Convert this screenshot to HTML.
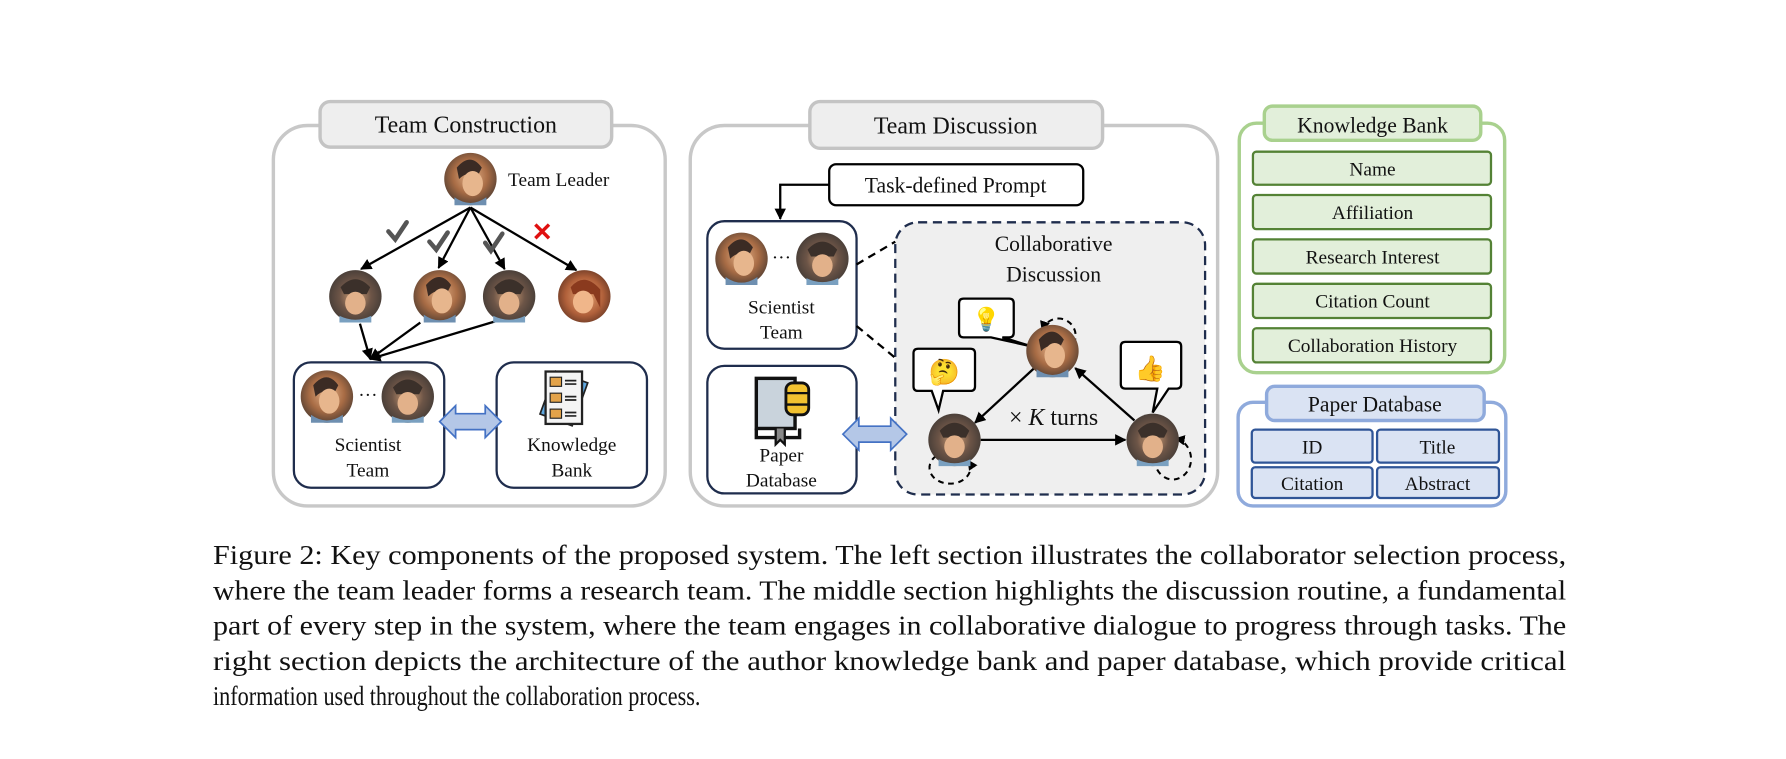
<!DOCTYPE html>
<html><head><meta charset="utf-8"><style>
html,body{margin:0;padding:0;background:#fff;}
svg{display:block;}
text{font-family:"Liberation Serif",serif;fill:#111;}
</style></head><body>
<svg width="1786" height="759" viewBox="0 0 1568 666" xmlns="http://www.w3.org/2000/svg">
<defs>
<marker id="ah" viewBox="0 0 10 10" refX="9" refY="5" markerWidth="5" markerHeight="5" orient="auto-start-reverse"><path d="M0,0 L10,5 L0,10 z" fill="#000"/></marker>
<radialGradient id="av" cx="0.5" cy="0.45" r="0.6"><stop offset="0" stop-color="#e6b48a"/><stop offset="0.55" stop-color="#a86c45"/><stop offset="1" stop-color="#4b3a30"/></radialGradient>
<radialGradient id="avb" cx="0.5" cy="0.5" r="0.6"><stop offset="0" stop-color="#d9a57a"/><stop offset="0.5" stop-color="#6d5547"/><stop offset="1" stop-color="#3a3532"/></radialGradient>
<radialGradient id="avr" cx="0.5" cy="0.5" r="0.6"><stop offset="0" stop-color="#e8a878"/><stop offset="0.6" stop-color="#b0603a"/><stop offset="1" stop-color="#5a3020"/></radialGradient>
<g id="A1"><circle r="23" fill="url(#av)"/><path d="M-12,-10 Q0,-24 10,-10 L6,-2 Q-2,-8 -10,0 z" fill="#3b2b24"/><ellipse cx="2" cy="4" rx="9" ry="11" fill="#e7b68d"/><path d="M-14,16 Q0,26 14,16 L14,23 L-14,23z" fill="#6e8fb0"/></g>
<g id="A2"><circle r="23" fill="url(#avb)"/><path d="M-13,-8 Q0,-22 13,-8 L10,-2 L-10,-2 z" fill="#3b302a"/><ellipse cx="0" cy="6" rx="9" ry="10" fill="#e2b18a"/><path d="M-14,17 Q0,24 14,17 L14,23 L-14,23z" fill="#7aa0c0"/></g>
<g id="A4"><circle r="23" fill="url(#avr)"/><path d="M-12,-8 Q0,-22 14,-6 L14,10 L8,-2 L-10,-2 z" fill="#8a3a1e"/><ellipse cx="-1" cy="5" rx="9" ry="10" fill="#f0b68a"/></g>
</defs>

<!-- LEFT PANEL -->
<rect x="240" y="110" width="344" height="334" rx="30" fill="#fff" stroke="#c8c8c8" stroke-width="3"/>
<rect x="281" y="89" width="256" height="40" rx="9" fill="#eeeeee" stroke="#c4c4c4" stroke-width="3"/>
<text x="409" y="116" font-size="21" text-anchor="middle">Team Construction</text>
<use href="#A1" x="413" y="157"/>
<text x="446" y="163" font-size="17">Team Leader</text>
<g stroke="#000" stroke-width="2" fill="none" marker-end="url(#ah)">
<line x1="413" y1="182" x2="317" y2="236"/>
<line x1="413" y1="182" x2="385" y2="235"/>
<line x1="413" y1="182" x2="443" y2="236"/>
<line x1="413" y1="182" x2="506" y2="237"/>
<line x1="316" y1="284" x2="325" y2="315"/>
<line x1="369" y1="283" x2="325" y2="315"/>
<line x1="438" y1="281" x2="325" y2="315"/>
</g>
<g stroke="#555" stroke-width="4" fill="none" stroke-linecap="round">
<path d="M341,203 L347,210 L357,195"/>
<path d="M377,212 L383,219 L393,204"/>
<path d="M426,213 L431,220 L441,205"/>
</g>
<path d="M470,197 L482,209 M482,197 L470,209" stroke="#e01010" stroke-width="3"/>
<use href="#A2" x="312" y="260"/>
<use href="#A1" x="386" y="260"/>
<use href="#A2" x="447" y="260"/>
<use href="#A4" x="513" y="260"/>
<rect x="258" y="318" width="132" height="110" rx="15" fill="#fff" stroke="#1f2d4d" stroke-width="2"/>
<use href="#A1" x="287" y="348"/><use href="#A2" x="358" y="348"/>
<text x="323" y="352" font-size="17" text-anchor="middle">···</text>
<text x="323" y="396" font-size="17" text-anchor="middle">Scientist</text>
<text x="323" y="418" font-size="17" text-anchor="middle">Team</text>
<rect x="436" y="318" width="132" height="110" rx="15" fill="#fff" stroke="#1f2d4d" stroke-width="2"/>
<g transform="translate(496,350)">
<rect x="-16" y="-20" width="30" height="40" fill="#5fa8e0" stroke="#222" stroke-width="1.5" transform="rotate(20)"/>
<rect x="-17" y="-24" width="32" height="46" fill="#f4f4f4" stroke="#222" stroke-width="2"/>
<rect x="-13" y="-19" width="10" height="8" fill="#e3a34a" stroke="#222"/><rect x="-13" y="-5" width="10" height="8" fill="#e3a34a" stroke="#222"/><rect x="-13" y="9" width="10" height="8" fill="#e3a34a" stroke="#222"/>
<path d="M0,-16h10M0,-13h10M0,-2h10M0,1h10M0,12h10M0,15h10" stroke="#222" stroke-width="1.5"/>
</g>
<text x="502" y="396" font-size="17" text-anchor="middle">Knowledge</text>
<text x="502" y="418" font-size="17" text-anchor="middle">Bank</text>
<path d="M386,370 L400,356 L400,363 L426,363 L426,356 L440,370 L426,384 L426,377 L400,377 L400,384 z" fill="#b4c7e7" stroke="#4472c4" stroke-width="1.5"/>

<!-- MIDDLE PANEL -->
<rect x="606" y="110" width="463" height="334" rx="30" fill="#fff" stroke="#c8c8c8" stroke-width="3"/>
<rect x="711" y="89" width="257" height="41" rx="9" fill="#eeeeee" stroke="#c4c4c4" stroke-width="3"/>
<text x="839" y="117" font-size="21" text-anchor="middle">Team Discussion</text>
<rect x="728" y="144" width="223" height="36" rx="6" fill="#fff" stroke="#000" stroke-width="2"/>
<text x="839" y="169" font-size="19" text-anchor="middle">Task-defined Prompt</text>
<path d="M728,162 L685,162 L685,192" stroke="#000" stroke-width="2" fill="none" marker-end="url(#ah)"/>
<rect x="621" y="194" width="131" height="112" rx="15" fill="#fff" stroke="#1f2d4d" stroke-width="2"/>
<use href="#A1" x="651" y="227"/><use href="#A2" x="722" y="227"/>
<text x="686" y="231" font-size="17" text-anchor="middle">···</text>
<text x="686" y="275" font-size="17" text-anchor="middle">Scientist</text>
<text x="686" y="297" font-size="17" text-anchor="middle">Team</text>
<rect x="621" y="321" width="131" height="112" rx="15" fill="#fff" stroke="#1f2d4d" stroke-width="2"/>
<g transform="translate(686,360)">
<rect x="-22" y="-28" width="34" height="44" fill="#c9d3dc" stroke="#111" stroke-width="3"/>
<path d="M-22,16 L-22,24 L16,24 L16,16" fill="none" stroke="#111" stroke-width="3"/>
<path d="M-5,16 L-5,30 L-1,26 L3,30 L3,16" fill="#888" stroke="#111" stroke-width="2"/>
<rect x="4" y="-24" width="20" height="28" rx="6" fill="#f2c230" stroke="#111" stroke-width="2.5"/>
<path d="M4,-15h20M4,-5h20" stroke="#111" stroke-width="2"/>
</g>
<text x="686" y="405" font-size="17" text-anchor="middle">Paper</text>
<text x="686" y="427" font-size="17" text-anchor="middle">Database</text>
<rect x="786" y="195" width="272" height="239" rx="20" fill="#efefef" stroke="#1f2d4d" stroke-width="2" stroke-dasharray="8,5"/>
<path d="M752,232 L786,212 M752,286 L786,314" stroke="#000" stroke-width="2" stroke-dasharray="7,5"/>
<path d="M740,381 L754,367 L754,374 L782,374 L782,367 L796,381 L782,395 L782,388 L754,388 L754,395 z" fill="#b4c7e7" stroke="#4472c4" stroke-width="1.5"/>
<text x="925" y="220" font-size="19" text-anchor="middle">Collaborative</text>
<text x="925" y="247" font-size="19" text-anchor="middle">Discussion</text>
<!-- bubbles -->
<path d="M846,262 H886 Q890,262 890,266 V292 Q890,296 886,296 H880 L906,304 L870,296 H846 Q842,296 842,292 V266 Q842,262 846,262z" fill="#fff" stroke="#000" stroke-width="2"/>
<text x="866" y="287" font-size="20" text-anchor="middle">💡</text>
<path d="M806,306 H852 Q856,306 856,310 V339 Q856,343 852,343 H828 L824,360 L818,343 H806 Q802,343 802,339 V310 Q802,306 806,306z" fill="#fff" stroke="#000" stroke-width="2"/>
<text x="829" y="334" font-size="22" text-anchor="middle">🤔</text>
<path d="M988,300 H1033 Q1037,300 1037,304 V337 Q1037,341 1033,341 H1026 L1012,362 L1016,341 H988 Q984,341 984,337 V304 Q984,300 988,300z" fill="#fff" stroke="#000" stroke-width="2"/>
<text x="1010" y="331" font-size="22" text-anchor="middle">👍</text>
<!-- loops -->
<g fill="none" stroke="#000" stroke-width="1.8" stroke-dasharray="5,4">
<path d="M915,290 A15,15 0 1 1 940,305" marker-start="url(#ah)"/>
<path d="M822,400 A18,14 0 1 0 850,404" marker-end="url(#ah)"/>
<path d="M1032,385 A16,18 0 1 1 1015,410" marker-start="url(#ah)"/>
</g>
<g stroke="#000" stroke-width="2" fill="none" marker-end="url(#ah)">
<line x1="908" y1="323" x2="856" y2="371"/>
<line x1="861" y1="386" x2="988" y2="386"/>
<line x1="996" y1="369" x2="944" y2="323"/>
</g>
<use href="#A1" x="924" y="308"/>
<use href="#A2" x="838" y="386"/>
<use href="#A2" x="1012" y="386"/>
<text x="925" y="373" font-size="21" text-anchor="middle">× <tspan font-style="italic">K</tspan> turns</text>

<!-- RIGHT -->
<rect x="1088" y="108" width="233" height="219" rx="15" fill="#fff" stroke="#a9d18e" stroke-width="3"/>
<rect x="1110" y="93" width="190" height="30" rx="7" fill="#e2efda" stroke="#a9d18e" stroke-width="3"/>
<text x="1205" y="116" font-size="19" text-anchor="middle">Knowledge Bank</text>
<g fill="#e2efda" stroke="#548235" stroke-width="2">
<rect x="1100" y="133" width="209" height="29" rx="3"/>
<rect x="1100" y="171" width="209" height="30" rx="3"/>
<rect x="1100" y="210" width="209" height="30" rx="3"/>
<rect x="1100" y="249" width="209" height="30" rx="3"/>
<rect x="1100" y="288" width="209" height="30" rx="3"/>
</g>
<g font-size="17" text-anchor="middle">
<text x="1205" y="154">Name</text>
<text x="1205" y="192">Affiliation</text>
<text x="1205" y="231">Research Interest</text>
<text x="1205" y="270">Citation Count</text>
<text x="1205" y="309">Collaboration History</text>
</g>
<rect x="1087" y="353" width="235" height="91" rx="13" fill="#fff" stroke="#8faadc" stroke-width="3"/>
<rect x="1112" y="339" width="191" height="30" rx="7" fill="#dae3f3" stroke="#8faadc" stroke-width="3"/>
<text x="1207" y="361" font-size="19" text-anchor="middle">Paper Database</text>
<g fill="#dae3f3" stroke="#2f5597" stroke-width="2">
<rect x="1099" y="377" width="106" height="29" rx="3"/>
<rect x="1209" y="377" width="107" height="29" rx="3"/>
<rect x="1099" y="410" width="106" height="27" rx="3"/>
<rect x="1209" y="410" width="107" height="27" rx="3"/>
</g>
<g font-size="17" text-anchor="middle">
<text x="1152" y="398">ID</text>
<text x="1262" y="398">Title</text>
<text x="1152" y="430">Citation</text>
<text x="1262" y="430">Abstract</text>
</g>

<!-- CAPTION -->
<g font-size="24">
<text x="187" y="495" textLength="1188" lengthAdjust="spacingAndGlyphs">Figure 2: Key components of the proposed system. The left section illustrates the collaborator selection process,</text>
<text x="187" y="526" textLength="1188" lengthAdjust="spacingAndGlyphs">where the team leader forms a research team. The middle section highlights the discussion routine, a fundamental</text>
<text x="187" y="557" textLength="1188" lengthAdjust="spacingAndGlyphs">part of every step in the system, where the team engages in collaborative dialogue to progress through tasks. The</text>
<text x="187" y="588" textLength="1188" lengthAdjust="spacingAndGlyphs">right section depicts the architecture of the author knowledge bank and paper database, which provide critical</text>
<text x="187" y="619" textLength="428" lengthAdjust="spacingAndGlyphs">information used throughout the collaboration process.</text>
</g>
</svg>
</body></html>
